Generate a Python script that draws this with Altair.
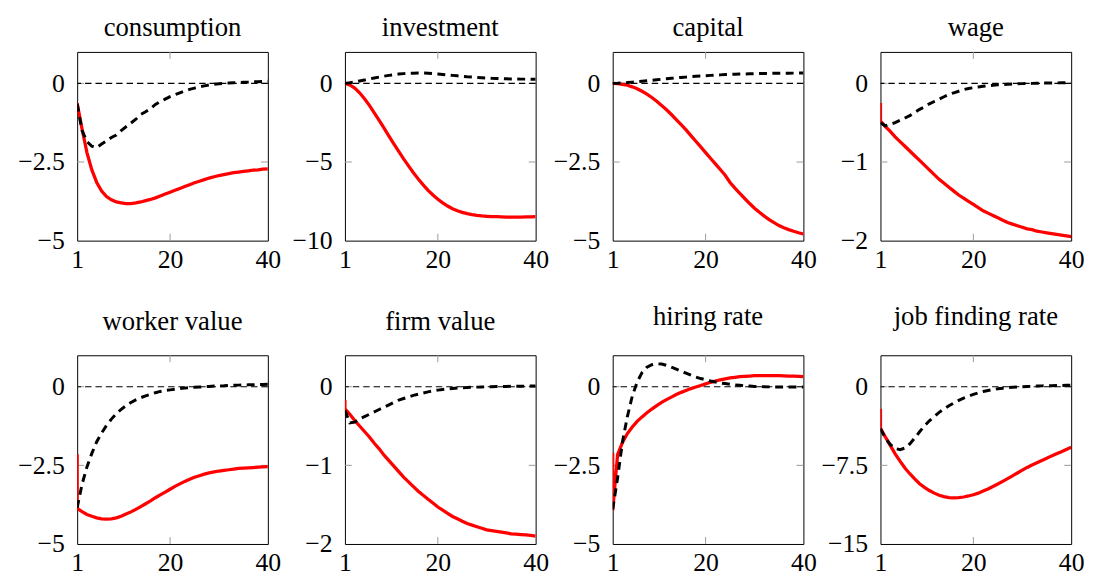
import altair as alt
import pandas as pd

periods = list(range(1, 41))
titles = ["consumption", "investment", "capital", "wage",
          "worker value", "firm value", "hiring rate", "job finding rate"]
y_domains = [[-5, 1], [-10, 2], [-5, 1], [-2, 0.4],
             [-5, 1], [-2, 0.4], [-5, 1], [-15, 3]]
y_ticks = [[-5, -2.5, 0], [-10, -5, 0], [-5, -2.5, 0], [-2, -1, 0],
           [-5, -2.5, 0], [-2, -1, 0], [-5, -2.5, 0], [-15, -7.5, 0]]
x_ticks = [1, 20, 40]
zero_level = [0]

# value of the red series on impact (drawn at period 1 before the first point)
red_impact = [None, None, None, -0.25, -2.15, -0.17, -2.1, -2.1]

cons_red = [-0.63, -1.45, -2.2, -2.75, -3.15, -3.42, -3.6, -3.7, -3.77, -3.8,
            -3.82, -3.82, -3.8, -3.77, -3.73, -3.69, -3.64, -3.58, -3.52, -3.46,
            -3.4, -3.34, -3.28, -3.22, -3.16, -3.11, -3.06, -3.01, -2.97, -2.93,
            -2.9, -2.87, -2.84, -2.82, -2.8, -2.78, -2.76, -2.75, -2.73, -2.72]
cons_black = [-0.65, -1.5, -1.85, -2.0, -2.04, -1.93, -1.83, -1.72, -1.64, -1.5,
              -1.38, -1.26, -1.14, -0.99, -0.9, -0.8, -0.67, -0.58, -0.5, -0.42,
              -0.36, -0.3, -0.24, -0.19, -0.15, -0.11, -0.08, -0.05, -0.03, -0.01,
              0.0, 0.01, 0.02, 0.03, 0.035, 0.04, 0.05, 0.055, 0.06, 0.07]

inv_red = [0.0, -0.1, -0.3, -0.6, -0.98, -1.4, -1.87, -2.35, -2.85, -3.35,
           -3.85, -4.33, -4.8, -5.25, -5.68, -6.08, -6.45, -6.8, -7.1, -7.37,
           -7.6, -7.8, -7.97, -8.1, -8.2, -8.28, -8.34, -8.39, -8.43, -8.45,
           -8.47, -8.48, -8.49, -8.5, -8.5, -8.5, -8.5, -8.49, -8.49, -8.48]
inv_black = [0.0, 0.04, 0.09, 0.15, 0.21, 0.28, 0.34, 0.4, 0.46, 0.51,
             0.55, 0.59, 0.62, 0.64, 0.65, 0.66, 0.66, 0.65, 0.63, 0.6,
             0.57, 0.54, 0.51, 0.48, 0.45, 0.42, 0.4, 0.38, 0.36, 0.34,
             0.32, 0.31, 0.3, 0.29, 0.28, 0.28, 0.27, 0.27, 0.26, 0.26]

cap_red = [0.0, -0.01, -0.03, -0.06, -0.11, -0.17, -0.25, -0.34, -0.45, -0.57,
           -0.7, -0.84, -0.99, -1.15, -1.31, -1.48, -1.66, -1.84, -2.02, -2.2,
           -2.38, -2.56, -2.74, -2.92, -3.15, -3.33, -3.5, -3.66, -3.82, -3.97,
           -4.1, -4.22, -4.33, -4.43, -4.52, -4.59, -4.65, -4.7, -4.75, -4.79]
cap_black = [0.0, 0.005, 0.015, 0.025, 0.04, 0.055, 0.07, 0.085, 0.1, 0.115,
             0.13, 0.145, 0.16, 0.175, 0.19, 0.2, 0.215, 0.225, 0.235, 0.245,
             0.255, 0.265, 0.27, 0.28, 0.285, 0.29, 0.295, 0.3, 0.305, 0.31,
             0.312, 0.315, 0.318, 0.32, 0.322, 0.324, 0.325, 0.326, 0.327, 0.328]

wage_red = [-0.48, -0.55, -0.61, -0.68, -0.74, -0.8, -0.86, -0.92, -0.98, -1.04,
            -1.1, -1.16, -1.22, -1.27, -1.32, -1.37, -1.42, -1.46, -1.5, -1.54,
            -1.58, -1.62, -1.65, -1.68, -1.71, -1.74, -1.77, -1.79, -1.81, -1.83,
            -1.85, -1.86, -1.88, -1.89, -1.9, -1.91, -1.92, -1.93, -1.94, -1.95]
wage_black = [-0.5, -0.54, -0.52, -0.5, -0.47, -0.44, -0.41, -0.37, -0.33, -0.3,
              -0.26, -0.23, -0.2, -0.17, -0.14, -0.12, -0.1, -0.08, -0.065, -0.055,
              -0.045, -0.037, -0.03, -0.024, -0.019, -0.015, -0.011, -0.008, -0.005, -0.003,
              -0.001, 0.0, 0.002, 0.003, 0.004, 0.005, 0.006, 0.007, 0.008, 0.009]

wv_red = [-3.87, -3.97, -4.06, -4.12, -4.17, -4.2, -4.21, -4.2, -4.17, -4.12,
          -4.05, -3.98, -3.9, -3.81, -3.72, -3.63, -3.53, -3.44, -3.35, -3.26,
          -3.17, -3.09, -3.01, -2.94, -2.88, -2.83, -2.78, -2.74, -2.71, -2.68,
          -2.66, -2.64, -2.62, -2.6, -2.59, -2.58, -2.57, -2.56, -2.55, -2.54]
wv_black = [-3.85, -3.1, -2.55, -2.12, -1.75, -1.47, -1.23, -1.03, -0.86, -0.72,
            -0.6, -0.5, -0.42, -0.35, -0.29, -0.24, -0.19, -0.15, -0.12, -0.1,
            -0.08, -0.06, -0.045, -0.03, -0.02, -0.01, 0.0, 0.01, 0.02, 0.025,
            0.03, 0.04, 0.045, 0.05, 0.055, 0.06, 0.065, 0.07, 0.07, 0.075]

fv_red = [-0.28, -0.35, -0.43, -0.5, -0.57, -0.64, -0.72, -0.79, -0.87, -0.94,
          -1.01, -1.08, -1.15, -1.21, -1.27, -1.33, -1.38, -1.43, -1.48, -1.53,
          -1.57, -1.61, -1.65, -1.68, -1.71, -1.74, -1.76, -1.78, -1.8, -1.82,
          -1.83, -1.84, -1.85, -1.86, -1.87, -1.875, -1.88, -1.885, -1.89, -1.9]
fv_black = [-0.3, -0.46, -0.45, -0.41, -0.38, -0.35, -0.32, -0.29, -0.26, -0.23,
            -0.2, -0.17, -0.15, -0.13, -0.11, -0.095, -0.08, -0.065, -0.053, -0.043,
            -0.035, -0.028, -0.022, -0.017, -0.013, -0.01, -0.007, -0.005, -0.003, -0.001,
            0.0, 0.002, 0.003, 0.004, 0.005, 0.006, 0.007, 0.008, 0.009, 0.01]

hr_red = [-3.93, -2.16, -1.77, -1.49, -1.28, -1.1, -0.96, -0.83, -0.71, -0.6,
          -0.5, -0.41, -0.33, -0.25, -0.18, -0.12, -0.06, -0.01, 0.04, 0.09,
          0.14, 0.18, 0.22, 0.25, 0.28, 0.3, 0.32, 0.33, 0.34, 0.35,
          0.35, 0.355, 0.355, 0.35, 0.35, 0.345, 0.34, 0.335, 0.33, 0.32]
hr_black = [-3.9, -2.9, -1.75, -0.95, -0.3, 0.15, 0.45, 0.62, 0.7, 0.73,
            0.72, 0.68, 0.62, 0.56, 0.49, 0.43, 0.37, 0.31, 0.26, 0.22,
            0.18, 0.15, 0.12, 0.1, 0.08, 0.06, 0.045, 0.03, 0.02, 0.01,
            0.005, 0.0, -0.005, -0.008, -0.01, -0.01, -0.01, -0.01, -0.01, -0.01]

jf_red = [-3.97, -4.8, -5.6, -6.4, -7.1, -7.75, -8.3, -8.8, -9.25, -9.6,
          -9.9, -10.15, -10.35, -10.48, -10.57, -10.6, -10.58, -10.52, -10.42, -10.3,
          -10.15, -9.95, -9.75, -9.52, -9.28, -9.03, -8.77, -8.5, -8.23, -7.96,
          -7.7, -7.46, -7.25, -7.03, -6.83, -6.6, -6.4, -6.2, -5.98, -5.78]
jf_black = [-4.0, -4.9, -5.5, -5.9, -6.0, -5.85, -5.45, -4.9, -4.3, -3.75,
            -3.25, -2.85, -2.45, -2.12, -1.82, -1.55, -1.3, -1.08, -0.9, -0.73,
            -0.58, -0.46, -0.36, -0.27, -0.2, -0.14, -0.09, -0.05, -0.02, 0.0,
            0.02, 0.04, 0.06, 0.08, 0.09, 0.1, 0.11, 0.12, 0.13, 0.14]

red_series = [cons_red, inv_red, cap_red, wage_red, wv_red, fv_red, hr_red, jf_red]
black_series = [cons_black, inv_black, cap_black, wage_black,
                wv_black, fv_black, hr_black, jf_black]
title_offsets = [10, 10, 10, 10, 19, 19, 24, 24]

W, H = 193, 191
FONT = "Liberation Serif"
TICK_LEN = 7


def make_panel(k):
    red_rows = []
    if red_impact[k] is not None:
        red_rows.append({"t": 1, "v": red_impact[k]})
    red_rows += [{"t": t, "v": v} for t, v in zip(periods, red_series[k])]
    red_df = pd.DataFrame(red_rows)
    red_df["i"] = list(range(len(red_df)))
    black_df = pd.DataFrame({"t": periods, "v": black_series[k]})

    lo, hi = y_domains[k]
    xs = alt.Scale(domain=[1, 40], nice=False, zero=False)
    ys = alt.Scale(domain=[lo, hi], nice=False, zero=False)
    xt = [v for v in x_ticks if 1 < v < 40]
    yt = [v for v in y_ticks[k] if lo < v < hi]

    xaxis = alt.Axis(values=x_ticks, format="d", labelFlush=False, labelOverlap=False,
                     labelPadding=6, ticks=False, domain=False, grid=False, title=None)
    yaxis = alt.Axis(values=y_ticks[k], format=".1~f", labelOverlap=False, labelPadding=13,
                     ticks=False, domain=False, grid=False, title=None,
                     minExtent=62, maxExtent=62)
    X = alt.X("t:Q", scale=xs, axis=xaxis)
    Y = alt.Y("v:Q", scale=ys, axis=yaxis)

    xtick_df = pd.DataFrame({"t": xt})
    ytick_df = pd.DataFrame({"v": yt})
    tick_style = dict(color="#9a9a9a", strokeWidth=1)

    top_ticks = alt.Chart(xtick_df).mark_rule(**tick_style).encode(
        x=X, y=alt.value(0), y2=alt.value(TICK_LEN))
    bottom_ticks = alt.Chart(xtick_df).mark_rule(**tick_style).encode(
        x=X, y=alt.value(H - TICK_LEN), y2=alt.value(H))
    left_ticks = alt.Chart(ytick_df).mark_rule(**tick_style).encode(
        y=Y, x=alt.value(0), x2=alt.value(TICK_LEN))
    right_ticks = alt.Chart(ytick_df).mark_rule(**tick_style).encode(
        y=Y, x=alt.value(W - TICK_LEN), x2=alt.value(W))

    zero = alt.Chart(pd.DataFrame({"v": zero_level})).mark_rule(
        color="black", strokeWidth=1.1, strokeDash=[6.5, 4]).encode(y=Y)

    red = alt.Chart(red_df).mark_line(color="#ff0000", strokeWidth=3.3, clip=True).encode(
        x=X, y=Y, order=alt.Order("i:Q"))

    black = alt.Chart(black_df).mark_line(color="black", strokeWidth=3,
                                          strokeDash=[8, 5.5], clip=True).encode(x=X, y=Y)

    return alt.layer(top_ticks, bottom_ticks, left_ticks, right_ticks, zero, red, black).properties(
        width=W, height=H,
        title=alt.TitleParams(text=titles[k], font=FONT, fontSize=27, fontWeight="normal",
                              color="black", anchor="middle", frame="group",
                              baseline="top", offset=title_offsets[k]))


panels = [make_panel(k) for k in range(8)]
row1 = alt.hconcat(*panels[:4], spacing=1)
row2 = alt.hconcat(*panels[4:], spacing=1)

chart = alt.vconcat(row1, row2, spacing=30).properties(
    padding={"left": 7, "top": 2, "right": 0, "bottom": 0},
    background="white",
).configure(font=FONT).configure_view(
    stroke="black", strokeWidth=1
).configure_axis(
    labelFont=FONT, labelFontSize=26, labelColor="black"
)

chart.save("out.html", embed_options={"renderer": "svg", "actions": False})
